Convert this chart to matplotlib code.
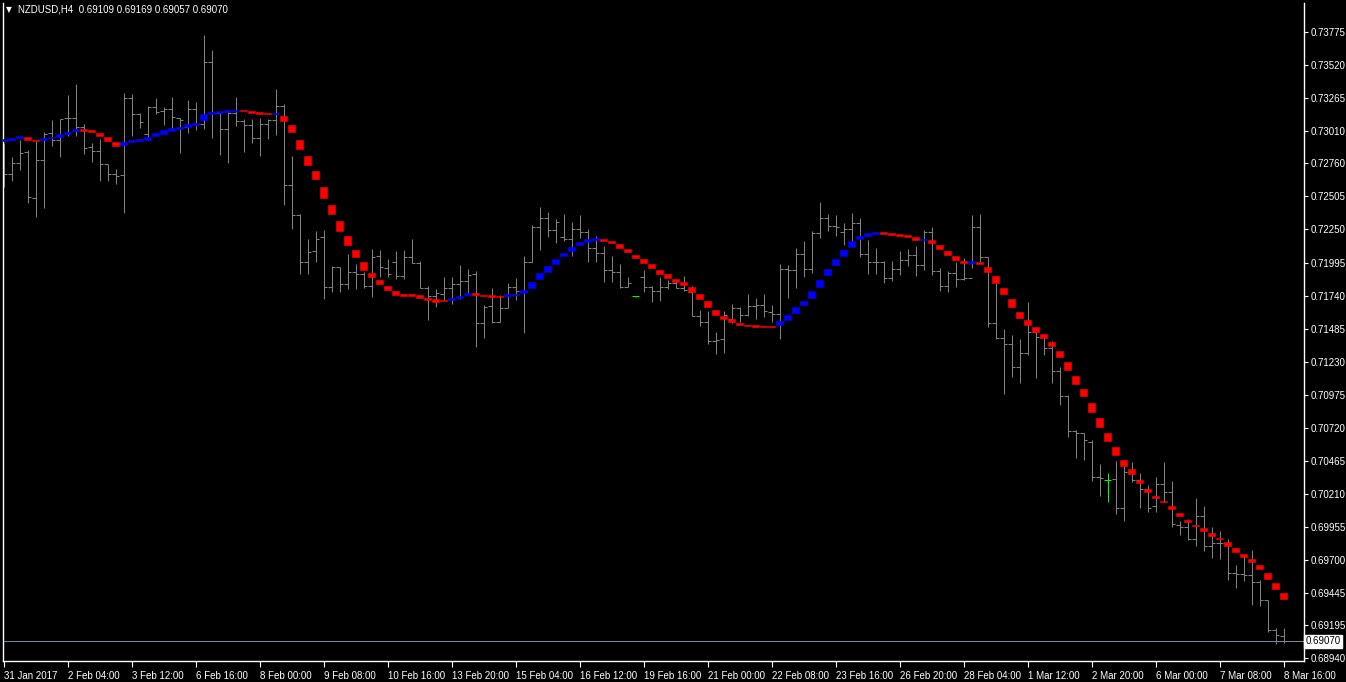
import matplotlib
matplotlib.use("Agg")
import matplotlib.pyplot as plt
from matplotlib.transforms import blended_transform_factory

plt.rcParams["font.family"] = ["Liberation Sans", "DejaVu Sans"]

# NZDUSD H4, 161 bars (index 0 = 31 Jan 2017 20:00)
opens = [0.72760, 0.72675, 0.72760, 0.72845, 0.72490, 0.72784, 0.72992, 0.72941, 0.73108, 0.73108,
         0.73038, 0.72884, 0.72853, 0.72753, 0.72675, 0.72668, 0.73262, 0.73139, 0.72984, 0.73193,
         0.73165, 0.73177, 0.73110, 0.73044, 0.73180, 0.73062, 0.73540, 0.73146, 0.73023, 0.73146,
         0.73087, 0.73054, 0.72953, 0.73062, 0.73095, 0.73201, 0.72591, 0.72361, 0.71996, 0.72081,
         0.72189, 0.71804, 0.71958, 0.71827, 0.71919, 0.71907, 0.71811, 0.72048, 0.71950, 0.71999,
         0.71889, 0.72035, 0.71992, 0.71796, 0.71739, 0.71752, 0.71796, 0.71827, 0.71853, 0.71904,
         0.71526, 0.71659, 0.71538, 0.71641, 0.71804, 0.71778, 0.71997, 0.72267, 0.72336, 0.72246,
         0.72190, 0.72177, 0.72254, 0.72228, 0.72105, 0.72066, 0.71935, 0.71919, 0.71804, 0.71734,
         0.71881, 0.71808, 0.71775, 0.71803, 0.71834, 0.71800, 0.71770, 0.71584, 0.71538, 0.71389,
         0.71404, 0.71558, 0.71641, 0.71589, 0.71661, 0.71667, 0.71615, 0.71600, 0.71942, 0.71937,
         0.72058, 0.71945, 0.72225, 0.72336, 0.72277, 0.72233, 0.72253, 0.72297, 0.72058, 0.71996,
         0.71996, 0.71872, 0.71945, 0.72014, 0.72053, 0.71975, 0.72233, 0.71929, 0.71813, 0.71911,
         0.71867, 0.71872, 0.72271, 0.72035, 0.71525, 0.71415, 0.71363, 0.71185, 0.71294, 0.71456,
         0.71422, 0.71332, 0.71160, 0.70962, 0.70691, 0.70676, 0.70611, 0.70336, 0.70313, 0.70321,
         0.70097, 0.70375, 0.70316, 0.70243, 0.70112, 0.70282, 0.70220, 0.69968, 0.69950, 0.69860,
         0.70035, 0.69808, 0.69826, 0.69826, 0.69595, 0.69587, 0.69582, 0.69525, 0.69386, 0.69157,
         0.69109]
highs = [0.72920, 0.72812, 0.72941, 0.72863, 0.72933, 0.73002, 0.73095, 0.73103, 0.73288, 0.73373,
         0.73062, 0.72915, 0.72948, 0.72755, 0.72714, 0.73301, 0.73293, 0.73146, 0.73203, 0.73262,
         0.73193, 0.73270, 0.73110, 0.73249, 0.73234, 0.73751, 0.73636, 0.73152, 0.73172, 0.73270,
         0.73100, 0.73100, 0.73108, 0.73100, 0.73332, 0.73219, 0.72817, 0.72367, 0.72174, 0.72238,
         0.72246, 0.71968, 0.71963, 0.72061, 0.71984, 0.71925, 0.72100, 0.72092, 0.72020, 0.72084,
         0.72092, 0.72177, 0.72007, 0.71814, 0.71791, 0.71883, 0.71883, 0.71976, 0.71945, 0.71930,
         0.71667, 0.71796, 0.71744, 0.71837, 0.71876, 0.72046, 0.72285, 0.72427, 0.72383, 0.72331,
         0.72370, 0.72306, 0.72362, 0.72257, 0.72200, 0.72125, 0.72046, 0.71984, 0.71881, 0.71736,
         0.71937, 0.71813, 0.71885, 0.71860, 0.71867, 0.71891, 0.71813, 0.71625, 0.71620, 0.71461,
         0.71620, 0.71672, 0.71654, 0.71752, 0.71723, 0.71749, 0.71667, 0.71983, 0.71975, 0.72109,
         0.72161, 0.72241, 0.72465, 0.72369, 0.72362, 0.72302, 0.72380, 0.72341, 0.72169, 0.72109,
         0.72009, 0.72006, 0.72086, 0.72099, 0.72122, 0.72246, 0.72266, 0.71955, 0.71929, 0.72001,
         0.72032, 0.72362, 0.72369, 0.72040, 0.71834, 0.71481, 0.71435, 0.71404, 0.71690, 0.71461,
         0.71422, 0.71389, 0.71185, 0.70969, 0.70699, 0.70678, 0.70624, 0.70439, 0.70370, 0.70462,
         0.70424, 0.70454, 0.70372, 0.70277, 0.70339, 0.70454, 0.70308, 0.69999, 0.70012, 0.70174,
         0.70115, 0.69952, 0.69922, 0.69857, 0.69659, 0.69736, 0.69775, 0.69543, 0.69389, 0.69170,
         0.69169]
lows = [0.72580, 0.72627, 0.72709, 0.72457, 0.72349, 0.72418, 0.72894, 0.72812, 0.72971, 0.72971,
        0.72835, 0.72773, 0.72627, 0.72627, 0.72603, 0.72379, 0.72971, 0.73033, 0.72966, 0.73141,
        0.73056, 0.73028, 0.72843, 0.72992, 0.73018, 0.73023, 0.72953, 0.72825, 0.72766, 0.73049,
        0.72850, 0.72920, 0.72820, 0.72946, 0.72977, 0.72441, 0.72251, 0.71908, 0.71903, 0.72001,
        0.71710, 0.71770, 0.71770, 0.71788, 0.71788, 0.71796, 0.71732, 0.71886, 0.71886, 0.71865,
        0.71871, 0.71989, 0.71796, 0.71554, 0.71654, 0.71706, 0.71677, 0.71711, 0.71757, 0.71340,
        0.71415, 0.71526, 0.71538, 0.71641, 0.71706, 0.71454, 0.71997, 0.72092, 0.72195, 0.72143,
        0.72159, 0.72046, 0.72182, 0.71999, 0.71999, 0.71845, 0.71845, 0.71801, 0.71804, 0.71732,
        0.71770, 0.71692, 0.71697, 0.71790, 0.71795, 0.71775, 0.71582, 0.71507, 0.71363, 0.71286,
        0.71298, 0.71530, 0.71533, 0.71584, 0.71558, 0.71576, 0.71533, 0.71401, 0.71718, 0.71800,
        0.71885, 0.71911, 0.72187, 0.72238, 0.72202, 0.72130, 0.72130, 0.72040, 0.71903, 0.71906,
        0.71834, 0.71852, 0.71896, 0.71968, 0.71891, 0.71937, 0.71898, 0.71775, 0.71764, 0.71808,
        0.71860, 0.71950, 0.72001, 0.71499, 0.71401, 0.70980, 0.71111, 0.71067, 0.71281, 0.71106,
        0.71281, 0.71067, 0.70895, 0.70650, 0.70488, 0.70470, 0.70310, 0.70194, 0.70148, 0.70055,
        0.70001, 0.70303, 0.70097, 0.70066, 0.70071, 0.70148, 0.69955, 0.69891, 0.69852, 0.69808,
        0.69770, 0.69716, 0.69703, 0.69546, 0.69479, 0.69536, 0.69350, 0.69345, 0.69139, 0.69046,
        0.69057]
closes = [0.72675, 0.72760, 0.72838, 0.72498, 0.72784, 0.72984, 0.72941, 0.73100, 0.73108, 0.73038,
          0.72876, 0.72853, 0.72753, 0.72675, 0.72663, 0.73262, 0.73139, 0.73077, 0.73193, 0.73159,
          0.73177, 0.73116, 0.73095, 0.73183, 0.73062, 0.73540, 0.73146, 0.73023, 0.73146, 0.73087,
          0.73054, 0.72953, 0.73062, 0.73095, 0.73201, 0.72591, 0.72361, 0.71996, 0.72076, 0.72179,
          0.71803, 0.71958, 0.71827, 0.71919, 0.71907, 0.71811, 0.72040, 0.71961, 0.71907, 0.71889,
          0.72035, 0.71992, 0.71796, 0.71739, 0.71757, 0.71796, 0.71827, 0.71853, 0.71899, 0.71526,
          0.71649, 0.71538, 0.71641, 0.71804, 0.71778, 0.71997, 0.72267, 0.72336, 0.72246, 0.72306,
          0.72177, 0.72254, 0.72228, 0.72105, 0.72066, 0.71935, 0.71919, 0.71804, 0.71840, 0.71734,
          0.71809, 0.71775, 0.71803, 0.71834, 0.71800, 0.71785, 0.71584, 0.71538, 0.71389, 0.71396,
          0.71589, 0.71641, 0.71589, 0.71661, 0.71667, 0.71620, 0.71600, 0.71942, 0.71937, 0.72058,
          0.71945, 0.72225, 0.72336, 0.72277, 0.72271, 0.72253, 0.72297, 0.72058, 0.71996, 0.71996,
          0.71872, 0.71945, 0.72014, 0.72053, 0.71975, 0.72233, 0.71929, 0.71813, 0.71911, 0.71867,
          0.71872, 0.72266, 0.72035, 0.71525, 0.71414, 0.71363, 0.71185, 0.71294, 0.71456, 0.71422,
          0.71332, 0.71160, 0.70962, 0.70691, 0.70676, 0.70622, 0.70336, 0.70328, 0.70313, 0.70097,
          0.70375, 0.70316, 0.70243, 0.70102, 0.70282, 0.70220, 0.69973, 0.69950, 0.69860, 0.70035,
          0.69808, 0.69826, 0.69826, 0.69600, 0.69587, 0.69582, 0.69525, 0.69386, 0.69157, 0.69119,
          0.69070]

# trend indicator histogram (two buffers per bar) and its direction
ind_hi = [0.72948, 0.72959, 0.72971, 0.72964, 0.72943, 0.72959, 0.72966, 0.72990, 0.73005, 0.73026,
          0.73026, 0.73020, 0.72995, 0.72964, 0.72925, 0.72928, 0.72943, 0.72951, 0.72964, 0.72995,
          0.73018, 0.73036, 0.73044, 0.73064, 0.73072, 0.73141, 0.73159, 0.73165, 0.73172, 0.73175,
          0.73175, 0.73165, 0.73157, 0.73152, 0.73152, 0.73126, 0.73056, 0.72941, 0.72817, 0.72701,
          0.72578, 0.72439, 0.72316, 0.72200, 0.72092, 0.71999, 0.71914, 0.71860, 0.71814, 0.71775,
          0.71752, 0.71752, 0.71744, 0.71721, 0.71714, 0.71706, 0.71721, 0.71737, 0.71760, 0.71760,
          0.71744, 0.71744, 0.71737, 0.71752, 0.71752, 0.71783, 0.71845, 0.71914, 0.71968, 0.72022,
          0.72069, 0.72115, 0.72156, 0.72177, 0.72185, 0.72177, 0.72162, 0.72138, 0.72100, 0.72053,
          0.72022, 0.71984, 0.71937, 0.71906, 0.71870, 0.71844, 0.71806, 0.71752, 0.71697, 0.71628,
          0.71582, 0.71558, 0.71530, 0.71512, 0.71512, 0.71504, 0.71504, 0.71543, 0.71589, 0.71651,
          0.71697, 0.71775, 0.71860, 0.71945, 0.72022, 0.72091, 0.72161, 0.72199, 0.72223, 0.72230,
          0.72230, 0.72223, 0.72215, 0.72207, 0.72192, 0.72179, 0.72169, 0.72130, 0.72084, 0.72045,
          0.72009, 0.72009, 0.71999, 0.71960, 0.71891, 0.71798, 0.71713, 0.71613, 0.71551, 0.71497,
          0.71443, 0.71381, 0.71312, 0.71227, 0.71119, 0.71018, 0.70910, 0.70794, 0.70678, 0.70570,
          0.70470, 0.70400, 0.70315, 0.70246, 0.70192, 0.70153, 0.70115, 0.70061, 0.70007, 0.69968,
          0.69945, 0.69906, 0.69868, 0.69837, 0.69790, 0.69744, 0.69705, 0.69659, 0.69597, 0.69520,
          0.69443]
ind_lo = [0.72933, 0.72943, 0.72959, 0.72943, 0.72933, 0.72943, 0.72959, 0.72964, 0.72990, 0.73010,
          0.73010, 0.73005, 0.72974, 0.72935, 0.72897, 0.72902, 0.72928, 0.72935, 0.72943, 0.72974,
          0.72990, 0.73010, 0.73026, 0.73041, 0.73056, 0.73098, 0.73144, 0.73149, 0.73159, 0.73165,
          0.73165, 0.73149, 0.73144, 0.73144, 0.73144, 0.73087, 0.73005, 0.72874, 0.72750, 0.72640,
          0.72495, 0.72372, 0.72239, 0.72131, 0.72038, 0.71937, 0.71883, 0.71832, 0.71786, 0.71744,
          0.71737, 0.71737, 0.71724, 0.71706, 0.71693, 0.71698, 0.71706, 0.71721, 0.71744, 0.71744,
          0.71737, 0.71729, 0.71729, 0.71737, 0.71744, 0.71760, 0.71798, 0.71868, 0.71922, 0.71984,
          0.72046, 0.72084, 0.72131, 0.72154, 0.72169, 0.72162, 0.72146, 0.72110, 0.72077, 0.72030,
          0.71991, 0.71953, 0.71906, 0.71875, 0.71844, 0.71821, 0.71767, 0.71716, 0.71651, 0.71592,
          0.71561, 0.71535, 0.71512, 0.71504, 0.71497, 0.71497, 0.71497, 0.71512, 0.71551, 0.71607,
          0.71667, 0.71721, 0.71806, 0.71898, 0.71975, 0.72045, 0.72114, 0.72179, 0.72197, 0.72215,
          0.72215, 0.72207, 0.72199, 0.72192, 0.72169, 0.72169, 0.72145, 0.72099, 0.72053, 0.72014,
          0.71991, 0.71991, 0.71983, 0.71921, 0.71836, 0.71752, 0.71654, 0.71566, 0.71512, 0.71458,
          0.71412, 0.71350, 0.71265, 0.71165, 0.71057, 0.70964, 0.70841, 0.70725, 0.70617, 0.70508,
          0.70424, 0.70362, 0.70292, 0.70223, 0.70176, 0.70146, 0.70092, 0.70037, 0.69991, 0.69960,
          0.69922, 0.69883, 0.69860, 0.69806, 0.69759, 0.69721, 0.69682, 0.69631, 0.69554, 0.69476,
          0.69399]
trend = ("uuu" + "dd" + "uuuuu" + "ddddd" + "u" * 15 + "dddd" + "u" + "d" * 21 + "uuu" + "dddd"
         + "u" * 12 + "d" * 22 + "u" * 13 + "d" * 5 + "u" + "d" * 5 + "u" + "d" * 39)
doji_bars = [79, 138]

x_tick_bars = list(range(0, 161, 8))
x_tick_labels = ["31 Jan 2017", "2 Feb 04:00", "3 Feb 12:00", "6 Feb 16:00", "8 Feb 00:00",
                 "9 Feb 08:00", "10 Feb 16:00", "13 Feb 20:00", "15 Feb 04:00", "16 Feb 12:00",
                 "19 Feb 16:00", "21 Feb 00:00", "22 Feb 08:00", "23 Feb 16:00", "26 Feb 20:00",
                 "28 Feb 04:00", "1 Mar 12:00", "2 Mar 20:00", "6 Mar 00:00", "7 Mar 08:00",
                 "8 Mar 16:00"]
y_ticks = [0.73775, 0.73520, 0.73265, 0.73010, 0.72760, 0.72505, 0.72250, 0.71995, 0.71740,
           0.71485, 0.71230, 0.70975, 0.70720, 0.70465, 0.70210, 0.69955, 0.69700, 0.69445,
           0.69195, 0.68940]
bid = 0.69070

W, H = 1346, 682
fig = plt.figure(figsize=(W / 100, H / 100), dpi=100, facecolor="black")
ax = fig.add_axes([2.5 / W, (H - 661) / H, 1301 / W, 658 / H], facecolor="black")
ax.set_xlim(-0.125, 162.5)
ax.set_ylim(0.68918, 0.73999)

n = len(opens)
xs = list(range(n))
bar_col = "#808080"
cols = ["#00ff00" if i in doji_bars else bar_col for i in xs]
lw = 0.75
ax.axhline(bid, color="#778899", lw=lw, zorder=1)
ax.vlines(xs, lows, highs, colors=cols, lw=lw, zorder=2)
ax.hlines(opens, [x - 0.4 for x in xs], xs, colors=cols, lw=lw, zorder=2)
ax.hlines(closes, xs, [x + 0.4 for x in xs], colors=cols, lw=lw, zorder=2)

ind_cols = ["#0000ff" if t == "u" else "#ff0000" for t in trend]
heights = [h - l for h, l in zip(ind_hi, ind_lo)]
ax.bar(xs, heights, bottom=ind_lo, width=0.82, color=ind_cols, edgecolor=ind_cols,
       linewidth=0.4, zorder=3)

for s in ["left", "right", "bottom"]:
    ax.spines[s].set_color("white")
    ax.spines[s].set_linewidth(1)
ax.spines["top"].set_visible(False)

ax.yaxis.tick_right()
ax.set_yticks(y_ticks)
ax.set_yticklabels([f"{v:.5f}" for v in y_ticks])
ax.tick_params(axis="y", colors="white", length=3, width=0.8, pad=2, labelsize=7)
ax.set_xticks(x_tick_bars)
ax.set_xticklabels(x_tick_labels, ha="left")
ax.tick_params(axis="x", colors="white", length=4, width=0.8, pad=3, labelsize=7)

# current bid label on the price scale
tr = blended_transform_factory(ax.transAxes, ax.transData)
ax.text(1.0015, bid, "0.69070", transform=tr, color="black", fontsize=7, va="center",
        ha="left", bbox=dict(boxstyle="square,pad=0.15", fc="white", ec="white"),
        clip_on=False, zorder=5)

fig.text(6 / W, 1 - 10 / H, "\u25bc", color="white", fontsize=5.5, va="center",
         family="DejaVu Sans")
fig.text(18 / W, 1 - 10 / H, "NZDUSD,H4  0.69109 0.69169 0.69057 0.69070", color="white",
         fontsize=7, va="center")

fig.savefig("out.png", dpi=100, facecolor="black")
